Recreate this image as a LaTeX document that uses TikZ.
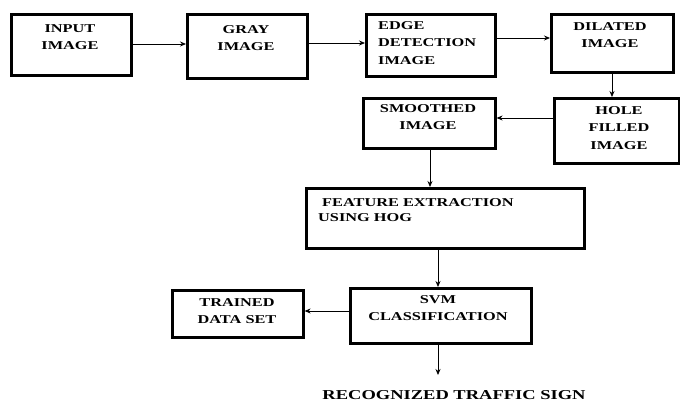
\documentclass[tikz,border=0pt]{standalone}
\usepackage{fontspec}
\setmainfont{Liberation Serif}[FakeStretch=1.36]
\usetikzlibrary{arrows.meta}
\tikzset{
  box/.style={draw=black, line width=2.6pt, inner sep=0pt, anchor=north west},
  lbl/.style={inner sep=0pt, anchor=north, align=center, font={\fontsize{12}{17.5}\selectfont\bfseries}},
  lbll/.style={lbl, anchor=north west, align=left},
  arr/.style={draw=black, line width=0.8pt, -{Stealth[length=6pt,width=5pt]}}
}
\begin{document}
\begin{tikzpicture}[x=1pt,y=-1pt]
\useasboundingbox (0,0) rectangle (680,401);
% boxes
\node[box, minimum width=120pt, minimum height=61pt] (in) at (10,13) {};
\node[box, minimum width=120pt, minimum height=64pt] (gray) at (186,13) {};
\node[box, minimum width=129pt, minimum height=62pt] (edge) at (365,13) {};
\node[box, minimum width=122pt, minimum height=58pt] (dil) at (550,13) {};
\node[box, minimum width=125pt, minimum height=65pt] (hole) at (553,97) {};
\node[box, minimum width=132pt, minimum height=50pt] (smo) at (362,97) {};
\node[box, minimum width=278pt, minimum height=60pt] (feat) at (305,187) {};
\node[box, minimum width=181pt, minimum height=55pt] (svm) at (349,287) {};
\node[box, minimum width=131pt, minimum height=47pt] (trn) at (171,289) {};
% labels
\node[lbl] (inT) at (70,24) {INPUT\\IMAGE};
\node[lbl] (grayT) at (246,25) {GRAY\\IMAGE};
\node[lbll] (edgeT) at (378,21) {EDGE\\DETECTION\\IMAGE};
\node[lbl] (dilT) at (610,22) {DILATED\\IMAGE};
\node[lbl] (holeT) at (619,106) {HOLE\\FILLED\\IMAGE};
\node[lbl] (smoT) at (428,104) {SMOOTHED\\IMAGE};
\node[lbll, font={\fontsize{12}{15.5}\selectfont\bfseries}] (featT) at (318,198) {\hspace*{4pt}FEATURE EXTRACTION\\USING HOG};
\node[lbl] (svmT) at (438,295) {SVM\\CLASSIFICATION};
\node[lbl] (trnT) at (237,298) {TRAINED\\DATA SET};
\node[inner sep=0pt, font={\fontsize{13.6}{16}\selectfont\bfseries}] (rec) at (454,395) {RECOGNIZED TRAFFIC SIGN};
\coordinate (recTop) at (438,375);
% connectors
\draw[arr] (in.east |- 0,44) -- (gray.west |- 0,44);
\draw[arr] (gray.east |- 0,43) -- (edge.west |- 0,43);
\draw[arr] (edge.east |- 0,38) -- (dil.west |- 0,38);
\draw[arr] (dil.south -| 612,0) -- (hole.north -| 612,0);
\draw[arr] (hole.west |- 0,118) -- (smo.east |- 0,118);
\draw[arr] (smo.south -| 430,0) -- (feat.north -| 430,0);
\draw[arr] (feat.south -| 438,0) -- (svm.north -| 438,0);
\draw[arr] (svm.west |- 0,311) -- (trn.east |- 0,311);
\draw[arr] (svm.south -| recTop) -- (recTop);
\end{tikzpicture}
\end{document}
